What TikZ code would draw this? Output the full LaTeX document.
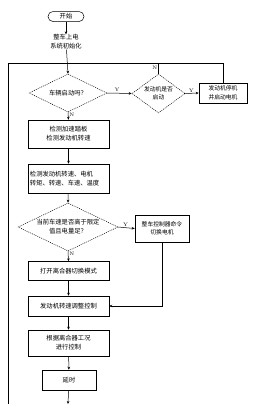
\documentclass[tikz,border=0pt]{standalone}
\usepackage{fontspec}
\newfontfamily\cjk{Noto Sans CJK SC}
\usetikzlibrary{arrows.meta,shapes.geometric}
\begin{document}
\begin{tikzpicture}[x=1pt,y=-1pt,
  font=\cjk\fontsize{6.3}{9}\selectfont, line width=0.5pt,
  proc/.style={draw, rectangle, align=center, inner sep=1pt, minimum width=81pt},
  dec/.style={draw, diamond, dash pattern=on 1pt off 1pt, inner sep=0pt},
  txt/.style={align=center, inner sep=0pt},
  small/.style={font=\cjk\fontsize{5.8}{8.5}\selectfont},
  arr/.style={-{Stealth[length=3pt,width=2.6pt]}},
  lab/.style={font=\fontsize{5}{6}\selectfont, inner sep=1pt}]
\useasboundingbox (0,0) rectangle (263,405);
% nodes
\node[draw, rounded corners=5pt, minimum width=36pt, minimum height=10pt, inner sep=0pt] (st) at (66,16.5) {开始};
\node[txt] (init) at (66,42) {整车上电\\系统初始化};
\node[dec, minimum width=78pt, minimum height=38pt] (d1) at (68,93) {};
\node[txt] at (d1) {车辆启动吗？};
\node[dec, minimum width=53pt, minimum height=39pt] (d2) at (158.5,93.5) {};
\node[txt, small] at (d2) {发动机是否\\启动};
\node[proc, small, minimum width=48pt, minimum height=20pt, inner sep=0.5pt] (r) at (223,93) {发动机停机\\并启动电机};
\node[proc, minimum height=28pt] (a) at (68.5,134) {检测加速踏板\\检测发动机转速};
\node[proc, minimum height=29pt, text width=77pt, align=left] (b) at (68.5,178.5) {检测发动机转速、电机\\转矩、转速、车速、温度};
\node[dec, minimum width=100pt, minimum height=48pt] (d3) at (68,227) {};
\node[txt] at (d3) {当前车速是否高于限定\\值且电量足？};
\node[proc, small, minimum width=54pt, minimum height=27pt, inner sep=0.5pt] (c) at (162,228.5) {整车控制器命令\\切换电机};
\node[proc, minimum height=19pt] (d) at (68.5,271) {打开离合器切换模式};
\node[proc, minimum height=20pt] (e) at (68.5,306) {发动机转速调整控制};
\node[proc, minimum height=26pt] (f) at (68.5,343) {根据离合器工况\\进行控制};
\node[proc, minimum width=54pt, minimum height=20pt] (g) at (69,380) {延时};
\coordinate (mg) at (68,63);
\coordinate (endp) at (68,404);
\coordinate (lp) at (8,404);
% connectors
\draw[arr] (st) -- (init);
\draw[arr] (init) -- (d1.north);
\draw (lp) -- (8,63) -- (mg);
\draw (d2.north) -- (158.5,63) -- (mg);
\draw (r.north) |- (158.5,63);
\draw[arr] (d1.east) -- node[lab, above, pos=0.4] {Y} (d2.west);
\draw[arr] (d2.east) -- node[lab, above, pos=0.45] {Y} (r.west);
\node[lab, left] at (158.5,68) {N};
\draw[arr] (d1.south) -- node[lab, right, pos=0.3] {N} (a.north);
\draw[arr] (a) -- (b);
\draw[arr] (b) -- (d3.north);
\draw[arr] (d3.east) -- node[lab, above, pos=0.45] {Y} (c.west);
\draw[arr] (d3.south) -- node[lab, right, pos=0.3] {N} (d.north);
\draw[arr] (d) -- (e);
\draw[arr] (c.south) |- (e.east);
\draw[arr] (e) -- (f);
\draw[arr] (f) -- (g);
\draw[arr] (g) -- (endp);
\end{tikzpicture}
\end{document}
